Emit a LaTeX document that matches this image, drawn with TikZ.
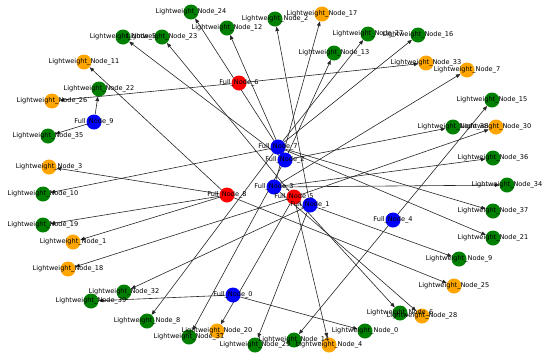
\documentclass[tikz,border=0pt]{standalone}
\usepackage{fontspec}
\setmainfont{DejaVu Sans}
\usetikzlibrary{arrows.meta, backgrounds}
\definecolor{nxgreen}{RGB}{0,128,0}
\definecolor{nxorange}{RGB}{255,165,0}

\begin{document}
\begin{tikzpicture}[x=1bp, y=-1bp,
        every node/.style={font=\fontsize{6.6}{7}\selectfont},
        dot/.style={circle, inner sep=0pt, minimum size=15bp},
        redfull/.style={dot, fill=red},
        bluefull/.style={dot, fill=blue},
        greenlight/.style={dot, fill=nxgreen},
        orangelight/.style={dot, fill=nxorange},
        lbl/.style={inner sep=0pt, text=black},
        arr/.style={-{Triangle[length=4.5bp, width=3.6bp]}, line width=0.6bp, draw=black!85}]

      \useasboundingbox (0,0) rectangle (550,357);

      % full nodes
      \node[bluefull] (f0) at (233,295) {};
      \node[bluefull] (f1) at (310,205) {};
      \node[bluefull] (f2) at (285,160) {};
      \node[bluefull] (f3) at (274,187) {};
      \node[bluefull] (f4) at (393,220) {};
      \node[redfull]  (f5) at (294,197) {};
      \node[redfull]  (f6) at (239,83) {};
      \node[bluefull] (f7) at (278,147) {};
      \node[redfull]  (f8) at (227,195) {};
      \node[bluefull] (f9) at (94,122) {};

      % lightweight nodes
      \node[greenlight]  (l0)  at (365,331) {};
      \node[orangelight] (l1)  at (73,242) {};
      \node[greenlight]  (l2)  at (275,19) {};
      \node[orangelight] (l3)  at (49,167) {};
      \node[orangelight] (l4)  at (329,345) {};
      \node[greenlight]  (l5)  at (123,37) {};
      \node[greenlight]  (l6)  at (400,313) {};
      \node[orangelight] (l7)  at (467,70) {};
      \node[greenlight]  (l8)  at (147,321) {};
      \node[greenlight]  (l9)  at (459,259) {};
      \node[greenlight]  (l10) at (43,194) {};
      \node[orangelight] (l11) at (84,62) {};
      \node[greenlight]  (l12) at (227,28) {};
      \node[greenlight]  (l13) at (334,53) {};
      \node[greenlight]  (l14) at (294,340) {};
      \node[greenlight]  (l15) at (492,100) {};
      \node[greenlight]  (l16) at (418,35) {};
      \node[orangelight] (l17) at (322,14) {};
      \node[orangelight] (l18) at (68,269) {};
      \node[greenlight]  (l19) at (43,225) {};
      \node[orangelight] (l20) at (217,331) {};
      \node[greenlight]  (l21) at (493,238) {};
      \node[greenlight]  (l22) at (99,89) {};
      \node[greenlight]  (l23) at (162,37) {};
      \node[greenlight]  (l24) at (191,12) {};
      \node[orangelight] (l25) at (454,286) {};
      \node[orangelight] (l26) at (52,101) {};
      \node[greenlight]  (l27) at (368,34) {};
      \node[orangelight] (l28) at (422,316) {};
      \node[greenlight]  (l29) at (255,345) {};
      \node[orangelight] (l30) at (496,127) {};
      \node[greenlight]  (l31) at (189,337) {};
      \node[greenlight]  (l32) at (124,292) {};
      \node[orangelight] (l33) at (426,63) {};
      \node[greenlight]  (l34) at (507,185) {};
      \node[greenlight]  (l35) at (48,136) {};
      \node[greenlight]  (l36) at (493,158) {};
      \node[greenlight]  (l37) at (493,211) {};
      \node[greenlight]  (l38) at (453,127) {};
      \node[greenlight]  (l39) at (91,301) {};

      % edges under the nodes
      \begin{scope}[on background layer]
      \draw[arr] (f7) -- (l24);
      \draw[arr] (f7) -- (l16);
      \draw[arr] (f7) -- (l27);
      \draw[arr] (f7) -- (l10);
      \draw[arr] (f7) -- (l37);
      \draw[arr] (f7) -- (l21);
      \draw[arr] (f7) -- (l8);
      \draw[arr] (f2) -- (l12);
      \draw[arr] (f2) -- (l13);
      \draw[arr] (f2) -- (l38);
      \draw[arr] (f2) -- (l31);
      \draw[arr] (f2) -- (l5);
      \draw[arr] (f3) -- (l17);
      \draw[arr] (f3) -- (l7);
      \draw[arr] (f3) -- (l36);
      \draw[arr] (f3) -- (l34);
      \draw[arr] (f3) -- (l28);
      \draw[arr] (f5) -- (l30);
      \draw[arr] (f5) -- (l6);
      \draw[arr] (f5) -- (l4);
      \draw[arr] (f5) -- (l18);
      \draw[arr] (f5) -- (l20);
      \draw[arr] (f5) -- (l23);
      \draw[arr] (f1) -- (l2);
      \draw[arr] (f1) -- (l9);
      \draw[arr] (f1) -- (l29);
      \draw[arr] (f1) -- (l32);
      \draw[arr] (f8) -- (l11);
      \draw[arr] (f8) -- (l3);
      \draw[arr] (f8) -- (l19);
      \draw[arr] (f8) -- (l1);
      \draw[arr] (f8) -- (l25);
      \draw[arr] (f6) -- (l26);
      \draw[arr] (f6) -- (l33);
      \draw[arr] (f4) -- (l15);
      \draw[arr] (f4) -- (l14);
      \draw[arr] (f0) -- (l39);
      \draw[arr] (f0) -- (l0);
      \draw[arr] (f9) -- (l35);
      \draw[arr] (f9) -- (l22);
      \end{scope}

      % labels on top
      \node[lbl] at (f0) {Full\_Node\_0};
      \node[lbl] at (f1) {Full\_Node\_1};
      \node[lbl] at (f2) {Full\_Node\_2};
      \node[lbl] at (f3) {Full\_Node\_3};
      \node[lbl] at (f4) {Full\_Node\_4};
      \node[lbl] at (f5) {Full\_Node\_5};
      \node[lbl] at (f6) {Full\_Node\_6};
      \node[lbl] at (f7) {Full\_Node\_7};
      \node[lbl] at (f8) {Full\_Node\_8};
      \node[lbl] at (f9) {Full\_Node\_9};
      \node[lbl] at (l0)  {Lightweight\_Node\_0};
      \node[lbl] at (l1)  {Lightweight\_Node\_1};
      \node[lbl] at (l2)  {Lightweight\_Node\_2};
      \node[lbl] at (l3)  {Lightweight\_Node\_3};
      \node[lbl] at (l4)  {Lightweight\_Node\_4};
      \node[lbl] at (l5)  {Lightweight\_Node\_5};
      \node[lbl] at (l6)  {Lightweight\_Node\_6};
      \node[lbl] at (l7)  {Lightweight\_Node\_7};
      \node[lbl] at (l8)  {Lightweight\_Node\_8};
      \node[lbl] at (l9)  {Lightweight\_Node\_9};
      \node[lbl] at (l10) {Lightweight\_Node\_10};
      \node[lbl] at (l11) {Lightweight\_Node\_11};
      \node[lbl] at (l12) {Lightweight\_Node\_12};
      \node[lbl] at (l13) {Lightweight\_Node\_13};
      \node[lbl] at (l14) {Lightweight\_Node\_14};
      \node[lbl] at (l15) {Lightweight\_Node\_15};
      \node[lbl] at (l16) {Lightweight\_Node\_16};
      \node[lbl] at (l17) {Lightweight\_Node\_17};
      \node[lbl] at (l18) {Lightweight\_Node\_18};
      \node[lbl] at (l19) {Lightweight\_Node\_19};
      \node[lbl] at (l20) {Lightweight\_Node\_20};
      \node[lbl] at (l21) {Lightweight\_Node\_21};
      \node[lbl] at (l22) {Lightweight\_Node\_22};
      \node[lbl] at (l23) {Lightweight\_Node\_23};
      \node[lbl] at (l24) {Lightweight\_Node\_24};
      \node[lbl] at (l25) {Lightweight\_Node\_25};
      \node[lbl] at (l26) {Lightweight\_Node\_26};
      \node[lbl] at (l27) {Lightweight\_Node\_27};
      \node[lbl] at (l28) {Lightweight\_Node\_28};
      \node[lbl] at (l29) {Lightweight\_Node\_29};
      \node[lbl] at (l30) {Lightweight\_Node\_30};
      \node[lbl] at (l31) {Lightweight\_Node\_31};
      \node[lbl] at (l32) {Lightweight\_Node\_32};
      \node[lbl] at (l33) {Lightweight\_Node\_33};
      \node[lbl] at (l34) {Lightweight\_Node\_34};
      \node[lbl] at (l35) {Lightweight\_Node\_35};
      \node[lbl] at (l36) {Lightweight\_Node\_36};
      \node[lbl] at (l37) {Lightweight\_Node\_37};
      \node[lbl] at (l38) {Lightweight\_Node\_38};
      \node[lbl] at (l39) {Lightweight\_Node\_39};
    \end{tikzpicture}
\end{document}
